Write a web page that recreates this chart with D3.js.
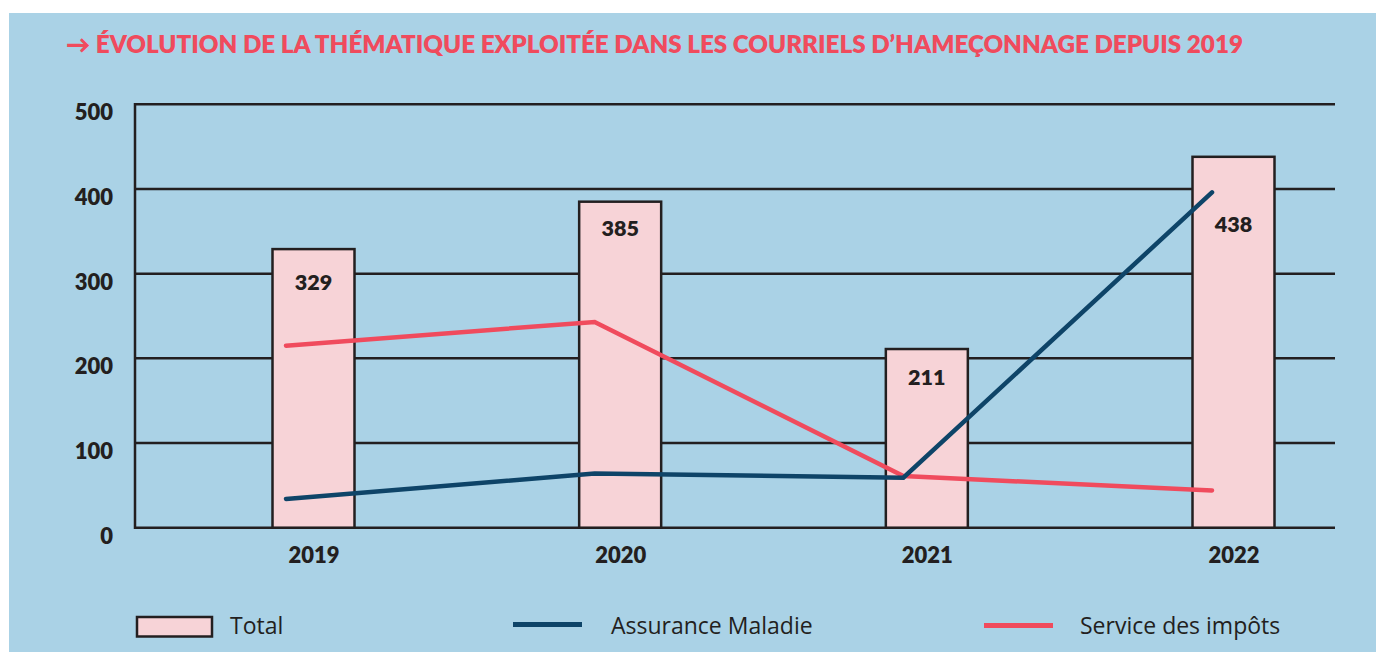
<!DOCTYPE html>
<html><head><meta charset="utf-8">
<script src="https://cdn.jsdelivr.net/npm/d3@7"></script>
<style>
html,body{margin:0;padding:0;background:#fff;}
svg{display:block;}
</style></head>
<body>
<svg id="chart" width="1376" height="652"></svg>
<script>
const title = "→ ÉVOLUTION DE LA THÉMATIQUE EXPLOITÉE DANS LES COURRIELS D’HAMEÇONNAGE DEPUIS 2019";
const years = ["2019", "2020", "2021", "2022"];
const totals = [329, 385, 211, 438];
const assuranceMaladie = [34, 64, 59, 396];
const serviceImpots = [215, 243, 61, 44];
const yTicks = [0, 100, 200, 300, 400, 500];
const legendLabels = ["Total", "Assurance Maladie", "Service des impôts"];

const C = {
  bg: "#AAD2E6", ink: "#231F20", red: "#F04B5D", blue: "#0E4468", pink: "#F7D3D7"
};
const svg = d3.select("#chart");
const W = 1376, H = 652;
const plot = {left: 135, right: 1335, top: 104.3, bottom: 527.7};

svg.append("rect").attr("x", 9).attr("y", 13).attr("width", W - 9).attr("height", H - 13).attr("fill", C.bg);

svg.append("text").attr("x", 66).attr("y", 53)
  .attr("font-family", "Lato, 'Open Sans', sans-serif").attr("font-weight", 800)
  .attr("font-size", 24).attr("fill", C.red)
  .attr("textLength", 1177).attr("lengthAdjust", "spacingAndGlyphs")
  .text(title);

const y = d3.scaleLinear().domain([0, 500]).range([plot.bottom, plot.top]);
const xBar = d3.scalePoint().domain(years).range([313.5, 1233.5]);
const xLine = d3.scalePoint().domain(years).range([286, 1212]);
const barW = 82;

// grid lines
svg.append("g").selectAll("line").data(yTicks).join("line")
  .attr("x1", plot.left).attr("x2", plot.right)
  .attr("y1", d => y(d)).attr("y2", d => y(d))
  .attr("stroke", C.ink).attr("stroke-width", 2.5);
svg.append("line").attr("x1", plot.left).attr("x2", plot.left)
  .attr("y1", y(500) - 1.2).attr("y2", y(0) + 1.2)
  .attr("stroke", C.ink).attr("stroke-width", 2.5);

// y axis labels
const yAxis = svg.append("g").attr("transform", `translate(${plot.left},0)`)
  .call(d3.axisLeft(y).tickValues(yTicks).tickSize(0).tickPadding(22));
yAxis.select(".domain").remove();
yAxis.selectAll("text").attr("font-family", "Lato, sans-serif").attr("font-weight", 800)
  .attr("font-size", 22).attr("fill", C.ink).attr("dy", "0.72em").attr("y", -0.5);

// x axis labels
const xAxis = svg.append("g").attr("transform", `translate(0,${plot.bottom})`)
  .call(d3.axisBottom(xBar).tickSize(0).tickPadding(0));
xAxis.select(".domain").remove();
xAxis.selectAll("text").attr("font-family", "Lato, sans-serif").attr("font-weight", 800)
  .attr("font-size", 22).attr("fill", C.ink).attr("y", 35.5).attr("dy", 0);

// bars
svg.append("g").selectAll("rect").data(totals).join("rect")
  .attr("x", (d, i) => xBar(years[i]) - barW / 2).attr("width", barW)
  .attr("y", d => y(d)).attr("height", d => y(0) - y(d))
  .attr("fill", C.pink).attr("stroke", C.ink).attr("stroke-width", 2.5);

// lines
const line = d3.line().x((d, i) => xLine(years[i])).y(d => y(d));
svg.append("path").datum(serviceImpots).attr("d", line)
  .attr("fill", "none").attr("stroke", C.red).attr("stroke-width", 4.5)
  .attr("stroke-linecap", "round").attr("stroke-linejoin", "miter");
svg.append("path").datum(assuranceMaladie).attr("d", line)
  .attr("fill", "none").attr("stroke", C.blue).attr("stroke-width", 4.5)
  .attr("stroke-linecap", "round").attr("stroke-linejoin", "miter");

// bar labels
const labelDy = [41, 34, 36, 75];
svg.append("g").selectAll("text").data(totals).join("text")
  .attr("x", (d, i) => xBar(years[i])).attr("y", (d, i) => y(d) + labelDy[i])
  .attr("text-anchor", "middle").attr("font-family", "Lato, sans-serif").attr("font-weight", 800)
  .attr("font-size", 21.5).attr("fill", C.ink).text(d => d);

// legend
const lg = svg.append("g").attr("font-family", "'Open Sans', sans-serif").attr("font-size", 23).attr("fill", C.ink);
lg.append("rect").attr("x", 137).attr("y", 617).attr("width", 75).attr("height", 19.5)
  .attr("fill", C.pink).attr("stroke", C.ink).attr("stroke-width", 2.5);
lg.append("text").attr("x", 230).attr("y", 634).text(legendLabels[0]);
lg.append("line").attr("x1", 513).attr("x2", 582).attr("y1", 624.5).attr("y2", 624.5)
  .attr("stroke", C.blue).attr("stroke-width", 5);
lg.append("text").attr("x", 611).attr("y", 634).text(legendLabels[1]);
lg.append("line").attr("x1", 984).attr("x2", 1053).attr("y1", 625.5).attr("y2", 625.5)
  .attr("stroke", C.red).attr("stroke-width", 5);
lg.append("text").attr("x", 1080).attr("y", 634).text(legendLabels[2]);
</script>
</body></html>
